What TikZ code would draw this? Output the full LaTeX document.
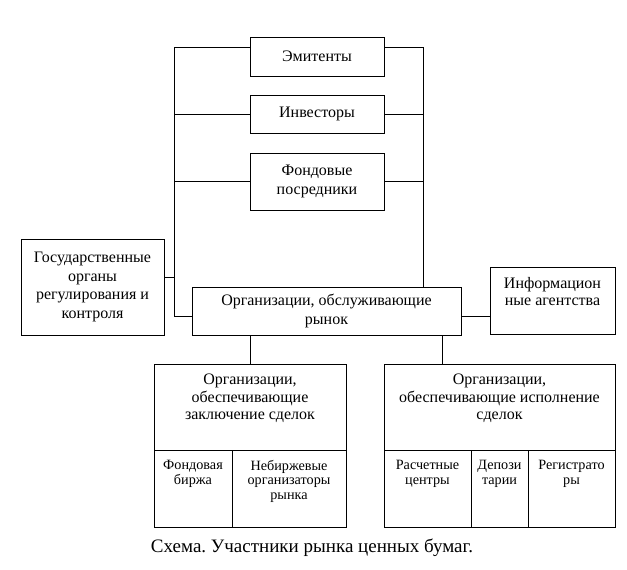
\documentclass[tikz,border=0pt]{standalone}
\usepackage{fontspec}
\setmainfont{Liberation Serif}
\frenchspacing
\begin{document}
\begin{tikzpicture}[x=1pt,y=-1pt,line width=0.8pt]
\tikzset{box/.style={draw,fill=white,align=center,inner sep=2pt,font=\fontsize{16}{18.7}\selectfont},
  cell/.style={draw,inner sep=0pt,minimum height=77pt},
  toptext/.style={anchor=north,align=center,inner sep=0pt,font=\fontsize{14.2}{14.8}\selectfont},
  hightext/.style={anchor=north,align=center,inner sep=0pt,font=\fontsize{16}{17.6}\selectfont}}
  \useasboundingbox (0,0) rectangle (627,570);
  \fill[white] (0,0) rectangle (627,570);

  % upper column
  \draw (317,56.5) node[box,minimum width=134pt,minimum height=39pt] (emit) {Эмитенты};
  \draw (317,114) node[box,minimum width=134pt,minimum height=38pt] (inv) {Инвесторы};
  \draw (317,181.5) node[box,minimum width=134pt,minimum height=57pt] (fond) {Фондовые\\посредники};

  \draw (92.5,287) node[box,minimum width=143pt,minimum height=96pt] (gos)
  {Государственные\\органы\\регулирования и\\контроля};
  \draw (326.5,311) node[box,minimum width=269pt,minimum height=48pt] (org)
  {Организации, обслуживающие\\рынок};
  \draw (552.5,301) node[box,minimum width=125pt,minimum height=67pt,
    label={[hightext,yshift=-9.5pt]north:{Информацион\\ные агентства}}] (info) {};

  % frame lines
  \coordinate (ltop) at (174,47);
  \coordinate (lbot) at (174,316);
  \coordinate (gosj) at (174,277);
  \coordinate (rtop) at (423,47);
  \draw (emit.west |- ltop) -- (ltop) -- (lbot) -- (org.west |- lbot);
  \draw (inv.west) -- (inv.west -| ltop);
  \draw (fond.west) -- (fond.west -| ltop);
  \draw (gos.east |- gosj) -- (gosj);
  \draw (emit.east |- rtop) -- (rtop) -- (org.north -| rtop);
  \draw (inv.east) -- (inv.east -| rtop);
  \draw (fond.east) -- (fond.east -| rtop);
  \draw (org.east |- lbot) -- (info.west |- lbot);

  % lower boxes
  \draw (250,407) node[cell,minimum width=192pt,minimum height=86pt,
    label={[hightext,yshift=-10pt]north:{Организации,\\обеспечивающие\\заключение сделок}}] (deal) {};
  \draw (193,488.5) node[cell,minimum width=78pt,
    label={[toptext,yshift=-10pt]north:{Фондовая\\биржа}}] (birzha) {};
  \draw (289,488.5) node[cell,minimum width=114pt,
    label={[toptext,yshift=-10pt]north:{Небиржевые\\организаторы\\рынка}}] (nonex) {};

  \draw (499.5,407) node[cell,minimum width=231pt,minimum height=86pt,
    label={[hightext,yshift=-10pt]north:{Организации,\\обеспечивающие исполнение\\сделок}}] (exec) {};
  \draw (427.5,488.5) node[cell,minimum width=87pt,
    label={[toptext,yshift=-10pt]north:{Расчетные\\центры}}] (calc) {};
  \draw (499.5,488.5) node[cell,minimum width=57pt,
    label={[toptext,yshift=-10pt]north:{Депози\\тарии}}] (depo) {};
  \draw (571.5,488.5) node[cell,minimum width=87pt,
    label={[toptext,yshift=-10pt]north:{Регистрато\\ры}}] (reg) {};

  \coordinate (rj) at (442,0);
  \draw (org.south -| deal.north) -- (deal.north);
  \draw (org.south -| rj) -- (exec.north -| rj);

  \draw (312,548) node[font=\fontsize{19}{22}\selectfont] (caption) {Схема. Участники рынка ценных бумаг.};
\end{tikzpicture}
\end{document}
